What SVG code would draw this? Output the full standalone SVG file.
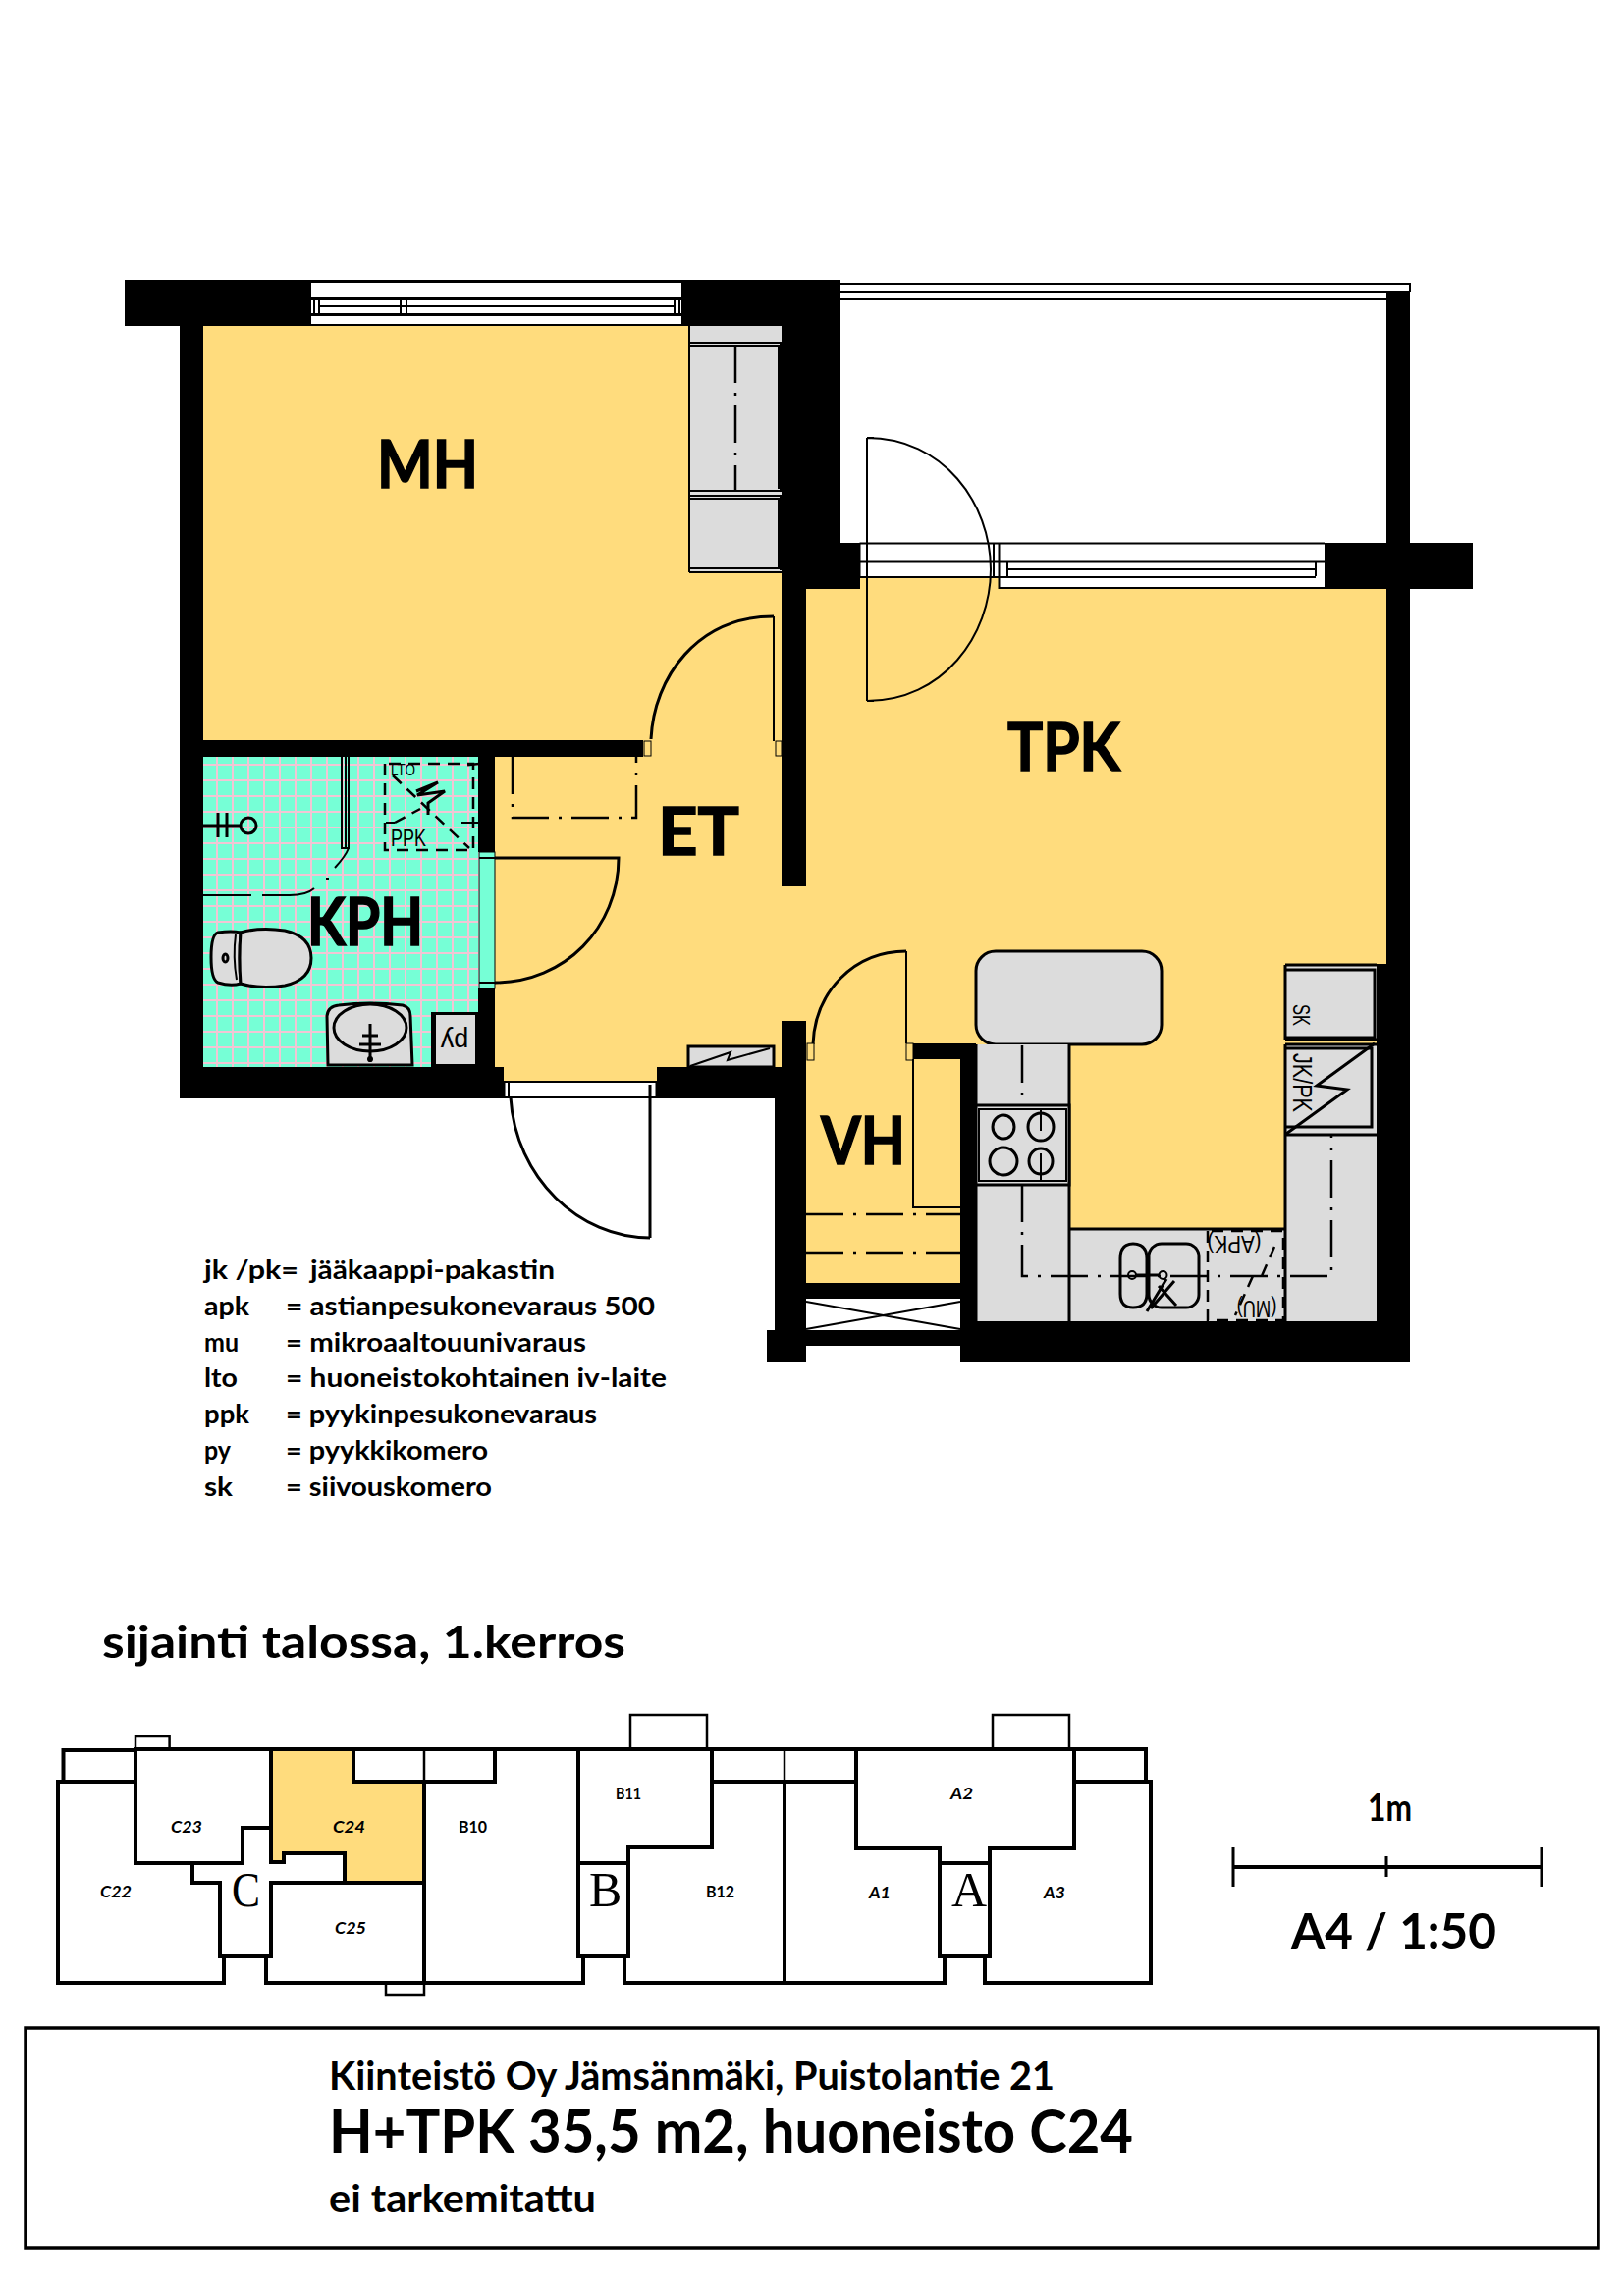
<svg xmlns="http://www.w3.org/2000/svg" width="1654" height="2339" viewBox="0 0 1654 2339">
<style>
.f{fill:#FFDC7D}.k{fill:#000}.w{fill:#fff}.g{fill:#DCDCDC;stroke:#000;stroke-width:3}.gn{fill:#DCDCDC}
.l{fill:none;stroke:#000;stroke-width:3}.l2{fill:none;stroke:#000;stroke-width:2}.l4{fill:none;stroke:#000;stroke-width:4}
.dd{fill:none;stroke:#000;stroke-width:2.5;stroke-dasharray:38 10 3 10}
.da{fill:none;stroke:#000;stroke-width:2.5;stroke-dasharray:12 8}
.t{font-family:"Lato","Noto Sans",sans-serif;font-weight:700;fill:#000}
.room{font-size:67px;stroke:#000;stroke-width:1.5}
.leg{font-size:27.5px}
.s{font-family:"Liberation Sans",Arial,sans-serif;fill:#000}
.c{font-family:"Lato","Noto Sans",sans-serif;font-weight:700;font-style:italic;font-size:17px;fill:#000}
.b{font-family:"Liberation Serif","Times New Roman",serif;font-size:50px;fill:#000}
.p{fill:none;stroke:#000;stroke-width:4;stroke-linejoin:miter;stroke-linecap:square}
.p2{fill:none;stroke:#000;stroke-width:2.5}
</style>
<defs>
<pattern id="tile" patternUnits="userSpaceOnUse" x="206" y="764" width="16" height="16">
<rect width="16" height="16" fill="#76FFD6"/>
<rect x="14" width="2.500" height="16" fill="#F2C6D4"/><rect y="14" width="16" height="2.500" fill="#F2C6D4"/>
</pattern>
</defs>
<rect width="1654" height="2339" class="w"/>
<g id="floor">
<rect class="f" x="207" y="332" width="589" height="430"/>
<rect class="f" x="504" y="754" width="317" height="333"/>
<rect class="f" x="513" y="1087" width="156" height="15"/>
<rect class="f" x="821" y="600" width="591" height="710"/>
<rect class="f" x="875" y="588" width="142" height="12"/>
<rect class="f" x="796" y="903" width="25" height="137"/>
<rect class="f" x="821" y="1060" width="157" height="247"/>
<rect x="207" y="771" width="280" height="316" fill="url(#tile)"/>
</g>
<g id="walls">
<rect class="k" x="127" y="285" width="729" height="47"/>
<rect class="k" x="796" y="285" width="60" height="268"/>
<rect class="k" x="796" y="553" width="80" height="47"/>
<rect class="k" x="796" y="600" width="25" height="303"/>
<rect class="k" x="183" y="332" width="24" height="787"/>
<rect class="k" x="183" y="754" width="472" height="17"/>
<rect class="k" x="183" y="1087" width="330" height="32"/>
<rect class="k" x="487" y="771" width="17" height="97"/>
<rect class="k" x="487" y="1007" width="17" height="80"/>
<rect class="k" x="669" y="1087" width="152" height="32"/>
<rect class="k" x="796" y="1040" width="25" height="50"/>
<rect class="k" x="789" y="1119" width="32" height="268"/>
<rect class="k" x="781" y="1355" width="40" height="32"/>
<rect class="k" x="930" y="1063" width="64" height="16"/>
<rect class="k" x="978" y="1063" width="16" height="324"/>
<rect class="k" x="978" y="1346" width="458" height="41"/>
<rect class="k" x="1412" y="297" width="24" height="1090"/>
<rect class="k" x="1402" y="982" width="10" height="365"/>
<rect class="k" x="1349" y="553" width="151" height="47"/>
<rect class="k" x="821" y="1307" width="157" height="16"/>
<rect class="k" x="821" y="1355" width="157" height="16"/>
</g>
<g id="windows">
<rect class="w" x="317" y="287" width="377" height="44"/>
<path class="l2" d="M317 287H694"/>
<rect class="k" x="317" y="303" width="377" height="3"/><rect class="k" x="317" y="319" width="377" height="3"/>
<rect class="k" x="317" y="330" width="377" height="2"/>
<path class="l2" d="M320 305V320M325 305V320M408 305V320M414 305V320M687 305V320M692 305V320M325 312H687"/>
<rect class="w" x="856" y="288" width="580" height="9"/>
<rect class="w" x="856" y="297" width="556" height="8"/>
<path class="l2" d="M856 289H1436V297M856 297H1436M856 305H1412"/>
<rect class="w" x="875.500" y="553" width="142" height="35"/>
<rect class="w" x="1017.500" y="553" width="331.500" height="46"/>
<path class="l2" d="M875.500 553.500H1349M875.500 553V588M875.500 588H1340M1017.500 553V599H1349"/>
<path class="l" d="M875.500 572H1349"/>
<path class="l2" d="M1012 553V588M1026 573V587M1340 573V587M1026 580H1340"/>
<path class="l2" d="M883 446V714M883 446C960 446 1009 512 1009 580C1009 648 960 714 883 714"/>
<path class="l2" d="M883 446H890M883 714H890"/>
</g>
<g id="closets">
<rect class="gn" x="702" y="332" width="94" height="251"/>
<path class="l2" d="M702 332V583M702 349H795V500H702M702 352H793V498M702 505H795V581M702 508H793V579H702M702 583H796"/>
<path class="dd" d="M749 352V500"/>
</g>
<g id="doors">
<path class="l" d="M663 753C666 690 710 628 788 628"/>
<path class="l2" d="M788 628V755"/>
<rect class="f" x="656" y="755" width="7" height="15" stroke="#000"/>
<rect class="f" x="790" y="755" width="6" height="15" stroke="#000"/>
<rect x="488" y="868" width="16" height="139" fill="#76FFD6" stroke="#000"/>
<path class="l" d="M504 874H630C630 945 575 1001 504 1001"/>
<path class="l2" d="M488 874H504M488 1001H504"/>
<path class="dd" d="M522 771V833H648V771"/>
<rect class="w" x="513" y="1103" width="156" height="15"/>
<path class="l2" d="M513 1102H669M513 1118H669"/>
<path class="l" d="M513 1103V1118M669 1103V1118M662 1105V1261"/>
<path class="l2" d="M518 1103V1118"/>
<path class="l" d="M662 1261C590 1261 525 1200 520 1118"/>
<path class="l" d="M828 1064C830 1010 870 969 923 969"/>
<path class="l2" d="M923 969V1063"/>
<rect class="f" x="822" y="1063" width="7" height="17" stroke="#000"/>
<rect class="f" x="923" y="1063" width="7" height="17" stroke="#000"/>
<path class="l2" d="M930 1079V1230H978"/>
<path class="dd" d="M821 1237H978M821 1276H978"/>
<path class="l2" d="M821 1326L978 1354M821 1354L978 1326"/>
</g>
<g id="kph">
<path class="l2" d="M348 771V864H355V771M352 771V864"/>
<path class="l2" d="M355 864Q352 872 341 884"/>
<path class="l2" d="M207 912H256M267 912H295Q312 912 320 905M236 912h3M332 895h3"/>
<path class="l" d="M207 841H245M222 828V853M231 828V853"/>
<circle class="l" cx="253" cy="841" r="8"/>
<path class="da" d="M392 778V866H482V778H392"/>
<path class="l2" d="M393 838H402M470 838H487"/>
<path class="da" d="M400 790L478 864M402 838L428 824M488 778L470 780"/>
<path class="l" d="M424 806L446 797L425 810L453 806L436 818V830"/>
<text class="s" x="398" y="790" font-size="16" textLength="25" lengthAdjust="spacingAndGlyphs">LTO</text>
<text class="s" x="398" y="862" font-size="24" textLength="36" lengthAdjust="spacingAndGlyphs">PPK</text>
<path class="g" d="M222 950Q236 948 245 950Q243 975 245 1002Q235 1005 222 1001Q215 998 215 975Q215 952 222 950Z"/>
<path class="l2" d="M240 952Q237 975 241 998"/>
<ellipse class="l" cx="229.500" cy="976" rx="2.500" ry="4"/>
<path class="g" d="M245 950Q265 944 290 948Q317 954 317 976Q317 998 290 1004Q265 1008 245 1002Q243 976 245 950Z"/>
<path class="g" d="M334 1085L333 1035Q334 1025 345 1024Q377 1020 410 1024Q418 1026 418 1035L420 1085Z"/>
<ellipse class="l" cx="377" cy="1047" rx="37" ry="24"/>
<path class="l" d="M377 1043V1082M366 1064H388M369 1055H385"/>
<circle cx="377" cy="1079" r="3" class="k"/>
<rect class="k" x="439" y="1031" width="48" height="56"/>
<rect class="gn" x="444" y="1034" width="40" height="50"/>
<text class="s" transform="rotate(180 463 1062)" x="463" y="1072" font-size="27" text-anchor="middle">py</text>
</g>
<g id="kitchen">
<rect class="g" x="994" y="969" width="189" height="95" rx="20" ry="20"/>
<rect class="gn" x="994" y="1064" width="95" height="282"/>
<rect class="gn" x="1089" y="1252" width="220" height="94"/>
<rect class="gn" x="1309" y="1156" width="93" height="190"/>
<path class="l" d="M994 1064V1346M1089 1064V1346M1089 1252H1309M1309 1156V1346"/>
<path class="dd" d="M1041 1065V1126M1041 1207V1300H1356V1157"/>
<rect class="g" x="994" y="1126" width="95" height="81"/>
<rect class="l2" x="997" y="1130" width="89" height="73"/>
<ellipse class="l" cx="1022" cy="1148" rx="11" ry="12"/><ellipse class="l" cx="1060" cy="1148" rx="13" ry="14"/>
<ellipse class="l" cx="1022" cy="1183" rx="14" ry="14"/><ellipse class="l" cx="1060" cy="1183" rx="12" ry="13"/>
<path class="l2" d="M1060 1129V1152M1060 1175V1203"/>
<path class="l" d="M1141 1282Q1141 1267 1154 1267Q1168 1267 1168 1282V1318Q1168 1332 1154 1332Q1141 1332 1141 1318Z"/>
<rect class="l" x="1170" y="1267" width="51" height="65" rx="13"/>
<circle class="l2" cx="1153" cy="1299" r="4"/><circle class="l2" cx="1184.500" cy="1299" r="4"/>
<path class="l" d="M1157 1299H1181M1188 1303L1168 1336M1180 1310L1198 1330M1196 1305L1172 1333"/>
<path class="da" d="M1230 1254V1345H1307V1254H1230M1298 1270L1285 1300M1276 1300L1258 1340"/>
<text class="s" transform="rotate(180 1257 1267)" x="1257" y="1275" font-size="24" text-anchor="middle" textLength="55" lengthAdjust="spacingAndGlyphs">(APK)</text>
<text class="s" transform="rotate(180 1280 1333)" x="1280" y="1341" font-size="24" text-anchor="middle" textLength="41" lengthAdjust="spacingAndGlyphs">(MU)</text>
<rect class="gn" x="1309" y="982" width="93" height="77"/>
<path class="l" d="M1309 983H1402M1309 988H1400V1057H1309M1309 1059H1402M1309 983V1059"/>
<text class="s" transform="rotate(90 1325 1034)" x="1325" y="1042" font-size="24" text-anchor="middle" textLength="22" lengthAdjust="spacingAndGlyphs">SK</text>
<rect class="gn" x="1309" y="1063" width="93" height="93"/>
<path class="l" d="M1309 1064H1402M1309 1156H1402M1309 1064V1156M1309 1148H1397V1068H1309"/>
<path class="l" d="M1400 1063L1341 1106L1372 1110L1310 1155" stroke-linejoin="miter"/>
<text class="s" transform="rotate(90 1326 1103)" x="1326" y="1112" font-size="27" text-anchor="middle" textLength="60" lengthAdjust="spacingAndGlyphs">JK/PK</text>
<rect class="g" x="701" y="1066" width="87" height="21"/>
<path class="l2" d="M703 1086L744 1072L741 1080L784 1068"/>
</g>
<g id="labels">
<text class="t room" x="384" y="497" textLength="103" lengthAdjust="spacingAndGlyphs">MH</text>
<text class="t room" x="1026" y="785" textLength="115" lengthAdjust="spacingAndGlyphs">TPK</text>
<text class="t room" x="670" y="871" textLength="83" lengthAdjust="spacingAndGlyphs">ET</text>
<text class="t room" x="313" y="963" textLength="118" lengthAdjust="spacingAndGlyphs">KPH</text>
<text class="t room" x="836" y="1186" textLength="86" lengthAdjust="spacingAndGlyphs">VH</text>
</g>
<g id="legend" class="t leg">
<text x="208" y="1303" textLength="96" lengthAdjust="spacingAndGlyphs">jk /pk=</text><text x="316" y="1303" textLength="249" lengthAdjust="spacingAndGlyphs">jääkaappi-pakastin</text>
<text x="208" y="1340" textLength="46" lengthAdjust="spacingAndGlyphs">apk</text><text x="291" y="1340" textLength="376" lengthAdjust="spacingAndGlyphs">= astianpesukonevaraus 500</text>
<text x="208" y="1377" textLength="35" lengthAdjust="spacingAndGlyphs">mu</text><text x="291" y="1377" textLength="306" lengthAdjust="spacingAndGlyphs">= mikroaaltouunivaraus</text>
<text x="208" y="1413" textLength="34" lengthAdjust="spacingAndGlyphs">lto</text><text x="291" y="1413" textLength="388" lengthAdjust="spacingAndGlyphs">= huoneistokohtainen iv-laite</text>
<text x="208" y="1450" textLength="46" lengthAdjust="spacingAndGlyphs">ppk</text><text x="291" y="1450" textLength="317" lengthAdjust="spacingAndGlyphs">= pyykinpesukonevaraus</text>
<text x="208" y="1487" textLength="27" lengthAdjust="spacingAndGlyphs">py</text><text x="291" y="1487" textLength="206" lengthAdjust="spacingAndGlyphs">= pyykkikomero</text>
<text x="208" y="1524" textLength="29" lengthAdjust="spacingAndGlyphs">sk</text><text x="291" y="1524" textLength="210" lengthAdjust="spacingAndGlyphs">= siivouskomero</text>
</g>
<g id="keyplan">
<text class="t" x="104" y="1689" font-size="46" textLength="533" lengthAdjust="spacingAndGlyphs">sijainti talossa, 1.kerros</text>
<path class="f" d="M276 1782H360V1815H432V1918H351V1888H289V1897H276Z"/>
<path class="p" d="M138 1782H1094M138 1782V1898H247V1862H276M276 1782V1897H289V1888H351V1918H276V1993H225M138 1815H59V2020H228V1993M196 1898V1918H224V1993M64.500 1815V1783H138M138 1898H196"/>
<path class="p" d="M360 1782V1815H504V1782M432 1815V2020M271 1993V2020H594V1993M276 1918H432M589 1782V1993H640V1882H725V1782M589 1898H640M636 1993V2020H962V1993H957V1883H872V1782M957 1898H1008M957 1993H1008V1883H1094V1782H1167V1815M1003 1993V2020H1172V1815H1094M725 1815H872M799 1815V2020"/>
<path class="p2" d="M138 1782V1769H172.600V1782M432 1782V1815M799 1782V1815M642 1782V1747H720V1782M1011 1782V1747H1089V1782M393 2020V2032H432V2020"/>
<text class="c" x="174" y="1867" textLength="32" lengthAdjust="spacingAndGlyphs">C23</text>
<text class="c" x="339" y="1867" textLength="33" lengthAdjust="spacingAndGlyphs">C24</text>
<text class="c" x="467" y="1867" textLength="29" lengthAdjust="spacingAndGlyphs" style="font-style:normal">B10</text>
<text class="c" x="627" y="1833" textLength="26" lengthAdjust="spacingAndGlyphs" style="font-style:normal">B11</text>
<text class="c" x="102" y="1933" textLength="32" lengthAdjust="spacingAndGlyphs">C22</text>
<text class="c" x="341" y="1970" textLength="32" lengthAdjust="spacingAndGlyphs">C25</text>
<text class="c" x="719" y="1933" textLength="29" lengthAdjust="spacingAndGlyphs" style="font-style:normal">B12</text>
<text class="c" x="968" y="1833" textLength="23" lengthAdjust="spacingAndGlyphs">A2</text>
<text class="c" x="885" y="1934" textLength="22" lengthAdjust="spacingAndGlyphs">A1</text>
<text class="c" x="1063" y="1934" textLength="22" lengthAdjust="spacingAndGlyphs">A3</text>
<text class="b" x="236" y="1942" textLength="29" lengthAdjust="spacingAndGlyphs">C</text><text class="b" x="600" y="1942">B</text><text class="b" x="969" y="1942">A</text>
</g>
<g id="scale">
<path class="l4" d="M1256 1902H1570"/><path class="l" d="M1256 1882V1922M1412 1891V1912M1570 1882V1922"/>
<text class="t" x="1393" y="1855" font-size="38" textLength="45" lengthAdjust="spacingAndGlyphs">1m</text>
<text class="t" x="1315" y="1985" font-size="50" textLength="209" lengthAdjust="spacingAndGlyphs">A4 / 1:50</text>
</g>
<g id="titlebox">
<rect x="26" y="2066" width="1602" height="224" fill="none" stroke="#000" stroke-width="3.500"/>
<text class="t" x="335" y="2129" font-size="40" textLength="739" lengthAdjust="spacingAndGlyphs">Kiinteistö Oy Jämsänmäki, Puistolantie 21</text>
<text class="t" x="335" y="2193" font-size="62" textLength="819" lengthAdjust="spacingAndGlyphs">H+TPK 35,5 m2, huoneisto C24</text>
<text class="t" x="335" y="2253" font-size="38" textLength="272" lengthAdjust="spacingAndGlyphs">ei tarkemitattu</text>
</g>
</svg>
